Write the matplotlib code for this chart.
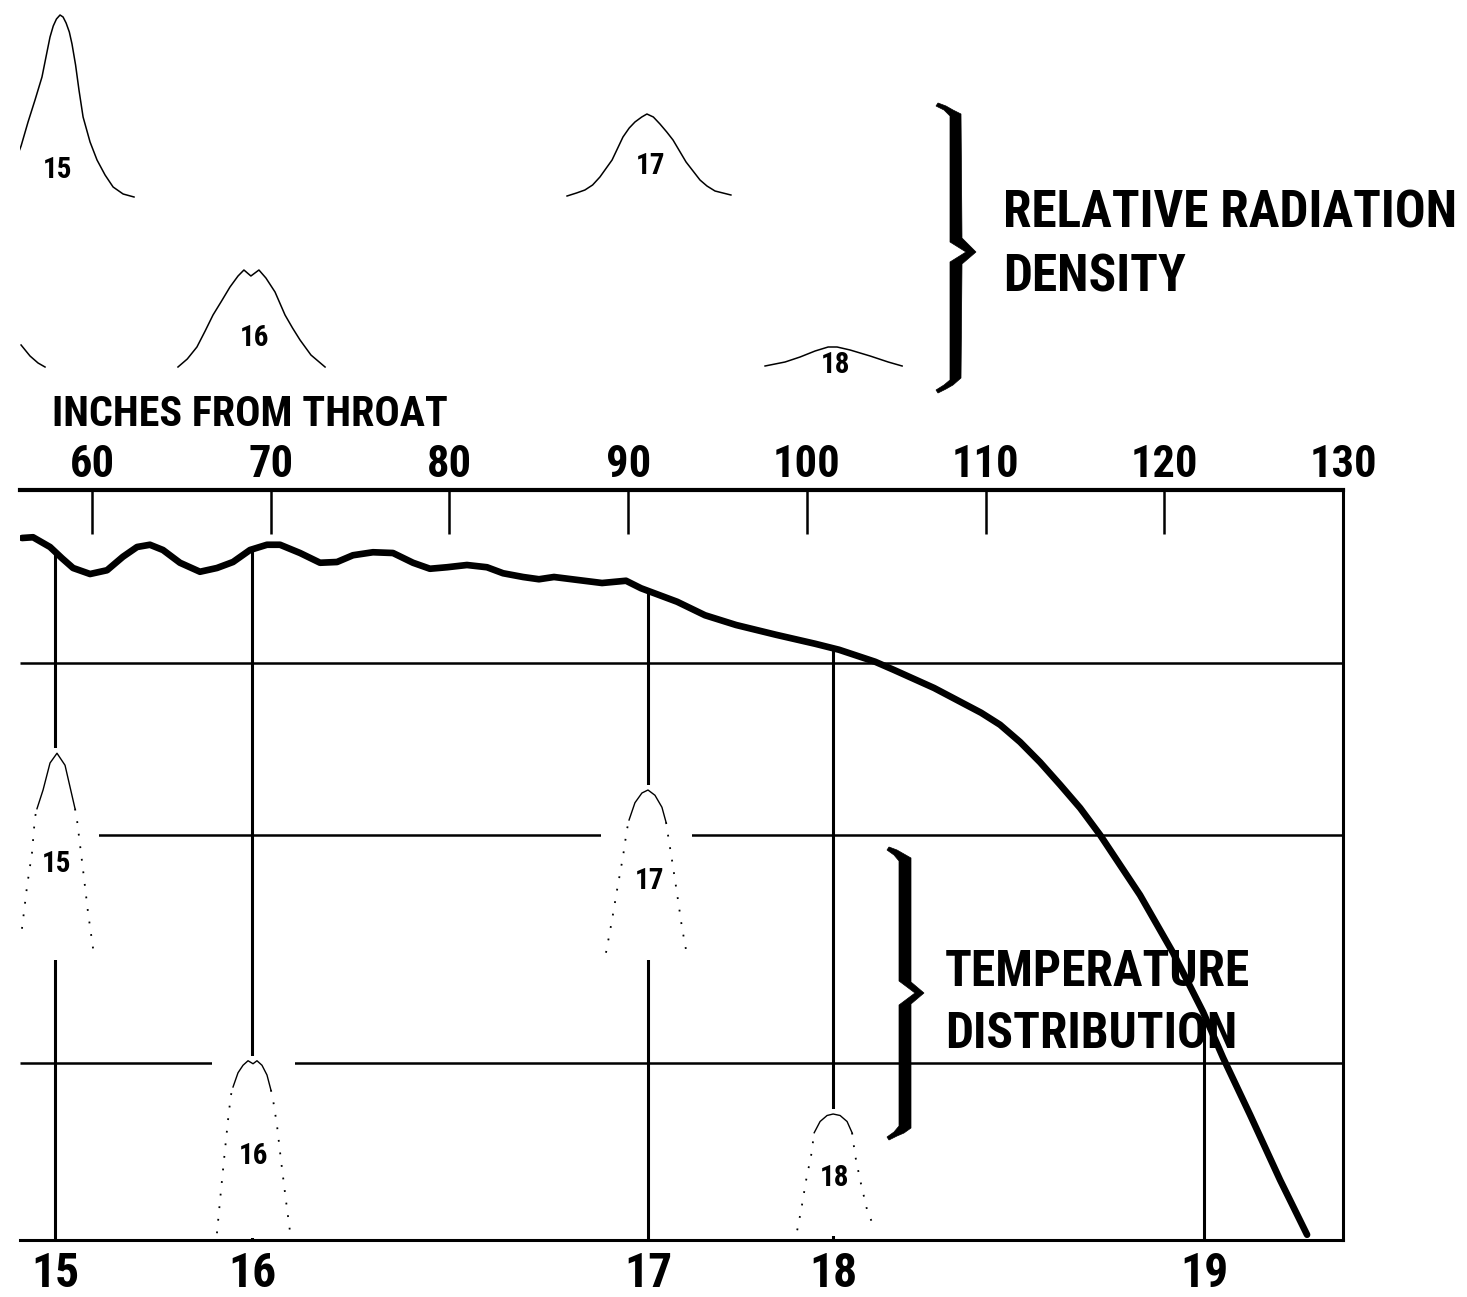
import matplotlib
matplotlib.use("Agg")
import matplotlib.pyplot as plt
import numpy as np
from matplotlib import font_manager as fm
from matplotlib.patches import Rectangle, Polygon

# pick a narrow face if one is installed (the original uses condensed lettering)
stretches = {}
for f in fm.fontManager.ttflist:
    stretches.setdefault(f.name, set()).add(str(f.stretch))
family, stretch = 'DejaVu Sans', 'normal'
for name in ['Liberation Sans Narrow', 'Roboto Condensed', 'Noto Sans Condensed',
             'DejaVu Sans Condensed', 'Open Sans Condensed']:
    if name in stretches:
        family = name
        break
else:
    for name in ['DejaVu Sans', 'Roboto', 'Noto Sans', 'Open Sans']:
        if stretches.get(name, set()) & {'condensed', 'semi-condensed', 'extra-condensed', '75', '87'}:
            family, stretch = name, 'condensed'
            break
plt.rcParams['font.family'] = [family, 'DejaVu Sans']
plt.rcParams['font.stretch'] = stretch
plt.rcParams['font.weight'] = 'bold'

# temperature along the nozzle: inches from throat / relative temperature (0-100)
curve_x = [56.08, 56.70, 57.65, 58.32, 58.94, 59.89, 60.84, 61.73, 62.52, 63.24,
           63.97, 64.92, 66.04, 66.99, 67.89, 68.84, 69.79, 70.52, 71.64, 72.76,
           73.71, 74.60, 75.72, 76.84, 77.96, 78.91, 79.86, 80.98, 82.10, 83.00,
           84.12, 85.01, 85.85, 87.19, 88.54, 89.88, 90.72, 92.74, 94.30, 96.04,
           98.27, 100.46, 101.80, 103.82, 104.88, 107.12, 109.75, 110.81, 111.93, 113.05,
           114.17, 115.29, 116.41, 118.64, 120.49, 122.17, 123.29, 124.80, 126.48, 127.99]
curve_t = [93.6, 93.7, 92.4, 90.9, 89.6, 88.8, 89.3, 91.1, 92.4, 92.7,
           92.0, 90.3, 89.1, 89.6, 90.4, 92.0, 92.7, 92.7, 91.6, 90.3,
           90.4, 91.3, 91.7, 91.6, 90.3, 89.5, 89.7, 90.0, 89.7, 88.9,
           88.4, 88.1, 88.4, 88.0, 87.6, 87.9, 86.9, 85.1, 83.3, 82.0,
           80.7, 79.5, 78.7, 77.1, 76.0, 73.6, 70.3, 68.7, 66.4, 63.7,
           60.7, 57.6, 54.0, 46.0, 38.3, 30.4, 24.3, 16.7, 8.0, 0.7]

stations = ['15', '16', '17', '18', '19']
station_x = [57.93, 68.95, 91.11, 101.47, 122.23]
grid_levels = [23.6, 54.0, 76.9]
top_ticks = [60, 70, 80, 90, 100, 110, 120, 130]

# relative radiation density profiles (offset from station in inches, height)
r15_dx = [-3.08, -2.52, -1.90, -1.51, -1.12, -0.73, -0.45, -0.28, -0.10, 0.08, 0.28,
          0.45, 0.62, 0.80, 0.95, 1.15, 1.34, 1.57, 1.96, 2.35, 2.80, 3.25, 3.81, 4.42]
r15_h = [7, 22, 51, 75, 97, 120, 145, 160, 171, 178, 182, 180, 174, 165, 153, 132,
         107, 80, 55, 37, 22, 10, 3, 0]
r16_dx = [-4.14, -3.62, -3.08, -2.62, -2.18, -1.70, -1.23, -0.78, -0.45, -0.06, 0.39,
          0.78, 1.29, 1.85, 2.27, 2.69, 3.30, 4.09]
r16_h = [0, 8, 20, 36, 52, 66, 80, 91, 97, 91, 97, 89, 75, 52, 39, 27, 12, 0]
r17_dx = [-4.53, -4.00, -3.53, -3.10, -2.69, -2.01, -1.40, -1.05, -0.73, -0.35, -0.06,
          0.30, 0.67, 1.05, 1.40, 2.13, 2.91, 3.30, 3.75, 4.64]
r17_h = [0, 3, 6, 11, 19, 36, 59, 68, 74, 79, 82, 79, 72, 64, 56, 34, 16, 10, 5, 1]
r18_dx = [-3.81, -2.69, -1.85, -1.01, -0.28, 0.22, 0.95, 2.07, 3.08, 3.86]
r18_h = [0, 4, 9, 15, 19, 19, 16, 10, 4, 0]
# tail of a profile cut off at the left edge
r14_tail_x = [56.03, 56.53, 56.98, 57.37]
r14_tail_h = [22, 11, 4, 0]

# temperature distribution profiles (offset in inches, relative temperature)
t15_dx = [-1.85, -1.57, -1.29, -1.12, -1.01, -0.67, -0.28, 0.11, 0.56, 0.84, 1.12,
          1.23, 1.57, 1.85, 2.18]
t15_y = [41.5, 47.1, 51.6, 56.4, 57.5, 60.0, 63.6, 64.9, 63.3, 60.4, 57.5, 56.0, 49.3, 43.6, 38.0]
t15_solid = (4, 10)
t16_dx = [-1.96, -1.73, -1.51, -1.34, -1.18, -1.06, -0.78, -0.50, -0.22, 0.06, 0.28,
          0.56, 0.84, 1.06, 1.18, 1.40, 1.62, 1.90, 2.13]
t16_y = [0.9, 6.7, 12.0, 16.0, 19.3, 20.4, 22.3, 23.3, 23.9, 23.5, 23.9, 23.3, 22.0,
         20.0, 18.7, 15.3, 10.7, 5.3, 1.1]
t16_solid = (5, 13)
t17_dx = [-2.35, -2.01, -1.73, -1.40, -1.18, -1.06, -0.73, -0.34, 0.0, 0.39, 0.78, 1.01,
          1.12, 1.34, 1.62, 1.90, 2.18]
t17_y = [38.3, 42.7, 46.7, 51.1, 54.7, 56.0, 58.3, 59.6, 60.0, 59.3, 57.7, 55.7, 54.0,
         50.7, 46.3, 41.7, 38.0]
t17_solid = (5, 11)
t18_dx = [-2.01, -1.79, -1.51, -1.23, -1.06, -0.73, -0.34, 0.0, 0.39, 0.78, 1.06, 1.23,
          1.51, 1.90, 2.35]
t18_y = [1.3, 4.0, 8.0, 11.3, 14.3, 15.8, 16.6, 16.8, 16.6, 15.8, 14.3, 11.3, 8.0, 4.0, 1.3]
t18_solid = (4, 10)

W, H = 1467, 1297
fig = plt.figure(figsize=(W / 100, H / 100), dpi=100)
renderer = fig.canvas.get_renderer()


def fx(px):
    return px / W


def fy(py):
    return 1 - py / H


def size_for(s, width, cap, spread=1.0):
    # font size that makes s about `width` px wide (may go `spread` times wider),
    # but with caps no taller than `cap` px
    t = fig.text(0, 0, s, fontsize=100)
    w = t.get_window_extent(renderer).width
    t.remove()
    fw = 100 * width * spread / w
    return min(fw, cap)


fs_big = size_for('RELATIVE RADIATION', 455, 47)
fs_temp = size_for('TEMPERATURE', 305, 49)
fs_axis = size_for('INCHES FROM THROAT', 396, 35)
fs_tick = size_for('60', 37, 32, 1.3)
fs_station = size_for('15', 37, 35, 1.3)
fs_small = size_for('15', 25, 21, 1.25)

XLIM = (55.97, 130)

# ---- main chart
ax = fig.add_axes([fx(20), fy(1240), fx(1343) - fx(20), fy(490) - fy(1240)])
ax.set_xlim(*XLIM)
ax.set_ylim(0, 100)
ax.set_yticks([])
ax.xaxis.tick_top()
ax.set_xticks(top_ticks)
ax.tick_params(axis='x', top=True, bottom=False, direction='in', length=32, width=1.8,
               pad=3, labelsize=fs_tick)
ax.spines['left'].set_visible(False)
ax.spines['top'].set_linewidth(3)
ax.spines['right'].set_linewidth(2.2)
ax.spines['bottom'].set_linewidth(2.2)
for s in ax.spines.values():
    s.set_zorder(10)

ax.hlines(grid_levels, XLIM[0], XLIM[1], color='black', lw=1.8, zorder=2)
tops = np.interp(station_x, curve_x, curve_t)
ax.vlines(station_x, 0, tops, color='black', lw=2.2, zorder=2)
ax.plot(curve_x, curve_t, color='black', lw=4.8, solid_joinstyle='round',
        solid_capstyle='round', zorder=6)

sec = ax.secondary_xaxis('bottom')
sec.set_xticks(station_x, labels=stations)
sec.tick_params(length=0, pad=8, labelsize=fs_station)
sec.spines['bottom'].set_visible(False)


def temp_profile(x0, dx, y, solid, label):
    xs = x0 + np.array(dx)
    ys = np.array(y)
    a, b = solid
    low = max(ys.min() - 0.7, 0.3)
    ax.add_patch(Rectangle((xs.min() - 0.3, low), xs.max() - xs.min() + 0.6,
                           ys.max() + 0.7 - low,
                           facecolor='white', edgecolor='none', zorder=3))
    ax.plot(xs[a:b + 1], ys[a:b + 1], color='black', lw=1.0, zorder=4)
    dots = dict(color='black', lw=1.3, ls=(0, (1, 6)), zorder=4)
    ax.plot(xs[:a + 1], ys[:a + 1], **dots)
    ax.plot(xs[b:], ys[b:], **dots)
    ax.text(x0 + 0.1, ys.max() - 0.55 * (ys.max() - ys.min()), label,
            ha='center', va='center', fontsize=fs_small, zorder=5)


temp_profile(station_x[0], t15_dx, t15_y, t15_solid, '15')
temp_profile(station_x[1], t16_dx, t16_y, t16_solid, '16')
temp_profile(station_x[2], t17_dx, t17_y, t17_solid, '17')
temp_profile(station_x[3], t18_dx, t18_y, t18_solid, '18')

# ---- radiation density profiles above
axt = fig.add_axes([fx(20), fy(400), fx(1343) - fx(20), fy(0) - fy(400)])
axt.set_xlim(*XLIM)
axt.set_ylim(0, 400)
axt.axis('off')

rad = [(r15_dx, r15_h, 203, 27), (r16_dx, r16_h, 33, 29),
       (r17_dx, r17_h, 204, 30), (r18_dx, r18_h, 34, 1)]
for i, (dx, h, base, lift) in enumerate(rad):
    axt.plot(station_x[i] + np.array(dx), base + np.array(h), color='black', lw=1.1)
    axt.text(station_x[i] + 0.15, base + lift, stations[i], ha='center', va='center',
             fontsize=fs_small)
axt.plot(r14_tail_x, 33 + np.array(r14_tail_h), color='black', lw=1.1)

fig.text(fx(52), fy(414), 'INCHES FROM THROAT', ha='left', va='center', fontsize=fs_axis)

# ---- braces and captions
deco = fig.add_axes([0, 0, 1, 1])
deco.set_xlim(0, W)
deco.set_ylim(H, 0)
deco.axis('off')
deco.patch.set_alpha(0)
brace1 = [(938, 103), (946, 106), (953, 110), (961, 114), (962, 238), (976, 252),
          (962, 264), (961, 378), (953, 385), (946, 389), (938, 393), (936, 390),
          (944, 385), (950, 380), (950, 262), (966, 252), (950, 242), (950, 116),
          (944, 110), (936, 106)]
brace2 = [(889, 847), (897, 850), (904, 854), (911, 858), (911, 982), (924, 993),
          (911, 1004), (911, 1128), (904, 1133), (897, 1136), (889, 1140), (887, 1137),
          (894, 1132), (899, 1126), (899, 1005), (915, 993), (899, 981), (899, 861),
          (894, 855), (887, 850)]
deco.add_patch(Polygon(brace1, closed=True, facecolor='black', edgecolor='black', lw=0.5))
deco.add_patch(Polygon(brace2, closed=True, facecolor='black', edgecolor='black', lw=0.5))

fig.text(fx(1003), fy(214), 'RELATIVE RADIATION', ha='left', va='center', fontsize=fs_big)
fig.text(fx(1003), fy(278), 'DENSITY', ha='left', va='center', fontsize=fs_big)
fig.text(fx(945), fy(973), 'TEMPERATURE', ha='left', va='center', fontsize=fs_temp, zorder=20)
fig.text(fx(945), fy(1034), 'DISTRIBUTION', ha='left', va='center', fontsize=fs_temp, zorder=20)

fig.savefig('out.png', dpi=100, facecolor='white')
